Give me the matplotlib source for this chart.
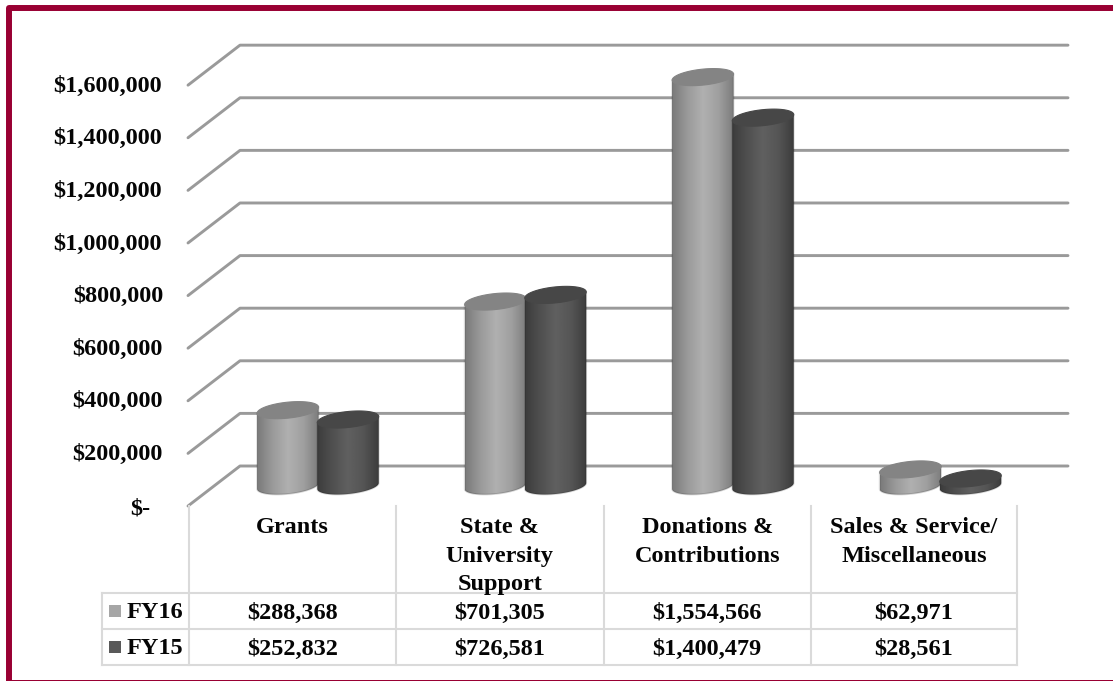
import numpy as np
import matplotlib
matplotlib.use("Agg")
import matplotlib.pyplot as plt
from matplotlib.colors import LinearSegmentedColormap
from matplotlib.path import Path
from matplotlib.patches import PathPatch, Rectangle
from matplotlib.transforms import Affine2D

plt.rcParams["font.family"] = ["Liberation Serif", "DejaVu Serif"]

categories = ["Grants", "State &\nUniversity\nSupport", "Donations &\nContributions", "Sales & Service/\nMiscellaneous"]
fy16 = [288368, 701305, 1554566, 62971]
fy15 = [252832, 726581, 1400479, 28561]
fy16_labels = ["$288,368", "$701,305", "$1,554,566", "$62,971"]
fy15_labels = ["$252,832", "$726,581", "$1,400,479", "$28,561"]
y_ticks = [0, 200000, 400000, 600000, 800000, 1000000, 1200000, 1400000, 1600000]
y_labels = ["$-", "$200,000", "$400,000", "$600,000", "$800,000", "$1,000,000", "$1,200,000", "$1,400,000", "$1,600,000"]

W, H = 1113, 681
CRIMSON = "#990033"
GRID = "#9a9a9a"
TABLE = "#dadada"
INK = "#050505"
FS = 17.5

# one category = 207.5 px, 3802 dollars = 1 px, wall zero sits at y=466
cat_px = 207.5
usd_px = 3802.0
x0, y0 = 292.0, 466.0

fig = plt.figure(figsize=(W / 100, H / 100), dpi=100)
ax = fig.add_axes([0, 0, 1, 1])
ax.set_xlim((0 - x0) / cat_px, (W - x0) / cat_px)
ax.set_ylim((y0 - H) * usd_px, y0 * usd_px)
ax.axis("off")

# pixel coordinates (origin top left) for the frame, table and labels
px = Affine2D().scale(1, -1).translate(0, H)

# frame
ax.plot([9, 9, W + 10], [H + 10, 8, 8], color=CRIMSON, lw=4.3, solid_joinstyle="round", transform=px, zorder=6)
ax.add_patch(Rectangle((6, 679.5), W - 6, 1.5, color=CRIMSON, lw=0, transform=px))

# walls: diagonal floor/side line then the back wall line
depth_x = 52 / cat_px
depth_y = 40 * usd_px
left = (188 - x0) / cat_px
right = (1068 - x0) / cat_px
for v in y_ticks:
    ax.plot([left, left + depth_x, right], [v - depth_y, v, v], color=GRID, lw=2.1,
            solid_joinstyle="round", solid_capstyle="round", zorder=1)

cmap16 = LinearSegmentedColormap.from_list("fy16", ["#7a7a7a", "#9a9a9a", "#b0b0b0", "#a0a0a0", "#7c7c7c"])
cmap15 = LinearSegmentedColormap.from_list("fy15", ["#3c3c3c", "#505050", "#606060", "#555555", "#3c3c3c"])
grad = np.linspace(0, 1, 128).reshape(1, -1)

bar_w = 0.296
base = -20 * usd_px
ry = 8 * usd_px
tilt = 3 * usd_px


def cylinder(cx, value, cmap, top_color, z):
    rx = bar_w / 2
    t = np.linspace(0, 2 * np.pi, 80)
    top = base + value
    ex = cx + rx * np.cos(t)
    ey = ry * np.sin(t) + tilt * np.cos(t)
    # lower half of the base ellipse + upper edge of the top
    tb = np.linspace(np.pi, 2 * np.pi, 40)
    bx = cx + rx * np.cos(tb)
    by = base + ry * np.sin(tb) + tilt * np.cos(tb)
    body = np.vstack([np.column_stack([bx, by]), [[cx + rx, top + tilt]], [[cx - rx, top - tilt]]])
    body_path = Path(np.vstack([body, body[0]]), closed=True)
    im = ax.imshow(grad, cmap=cmap, aspect="auto", interpolation="bilinear", zorder=z,
                   extent=[cx - rx, cx + rx, base - ry - tilt, top + ry + tilt])
    im.set_clip_path(PathPatch(body_path, transform=ax.transData))
    ax.add_patch(PathPatch(body_path, fc="none", ec="#000000", alpha=0.15, lw=1.2, zorder=z))
    ax.fill(ex, top + ey, color=top_color, lw=0.8, zorder=z + 0.1)


for i in range(len(categories)):
    cylinder(i - 0.02, fy16[i], cmap16, "#848484", 2 + i)
    cylinder(i + 0.27, fy15[i], cmap15, "#474747", 2.5 + i)

# imshow resets limits
ax.set_xlim((0 - x0) / cat_px, (W - x0) / cat_px)
ax.set_ylim((y0 - H) * usd_px, y0 * usd_px)

# value axis labels on the front edge
for v, lab in zip(y_ticks, y_labels):
    if v == 0:
        ax.text((150 - x0) / cat_px, v - depth_y - 3 * usd_px, lab, ha="right", va="center", fontsize=FS, fontweight="bold", color=INK)
    else:
        right_px = 161.5 if v >= 1000000 else 163
        ax.text((right_px - x0) / cat_px, v - depth_y - 1 * usd_px, lab, ha="right", va="center", fontsize=FS, fontweight="bold", color=INK)

# data table
col_x = [188.5, 396, 603.5, 811, 1017]
row_y = [593, 629, 665]
for cx_ in col_x:
    ax.plot([cx_, cx_], [506, 665], color=TABLE, lw=1.5, transform=px, zorder=1)
ax.plot([101.5, 101.5], [593, 665], color=TABLE, lw=1.5, transform=px, zorder=1)
for ry_ in row_y:
    ax.plot([101.5, 1017], [ry_, ry_], color=TABLE, lw=1.5, transform=px, zorder=1)

for i, cat in enumerate(categories):
    xc = (col_x[i] + col_x[i + 1]) / 2
    ax.text(xc, 517, cat, ha="center", va="top", fontsize=FS, fontweight="bold", color=INK,
            linespacing=1.48, transform=px)
    ax.text(xc, 613, fy16_labels[i], ha="center", va="center", fontsize=FS, fontweight="bold", color=INK, transform=px)
    ax.text(xc, 649, fy15_labels[i], ha="center", va="center", fontsize=FS, fontweight="bold", color=INK, transform=px)

# legend keys in the table
ax.add_patch(Rectangle((109, 605), 12, 12, color="#a6a6a6", lw=0, transform=px))
ax.add_patch(Rectangle((109, 641), 12, 12, color="#595959", lw=0, transform=px))
ax.text(127, 613, "FY16", ha="left", va="center", fontsize=FS, fontweight="bold", color=INK, transform=px)
ax.text(127, 649, "FY15", ha="left", va="center", fontsize=FS, fontweight="bold", color=INK, transform=px)

fig.savefig("out.png", dpi=100, facecolor="white")
